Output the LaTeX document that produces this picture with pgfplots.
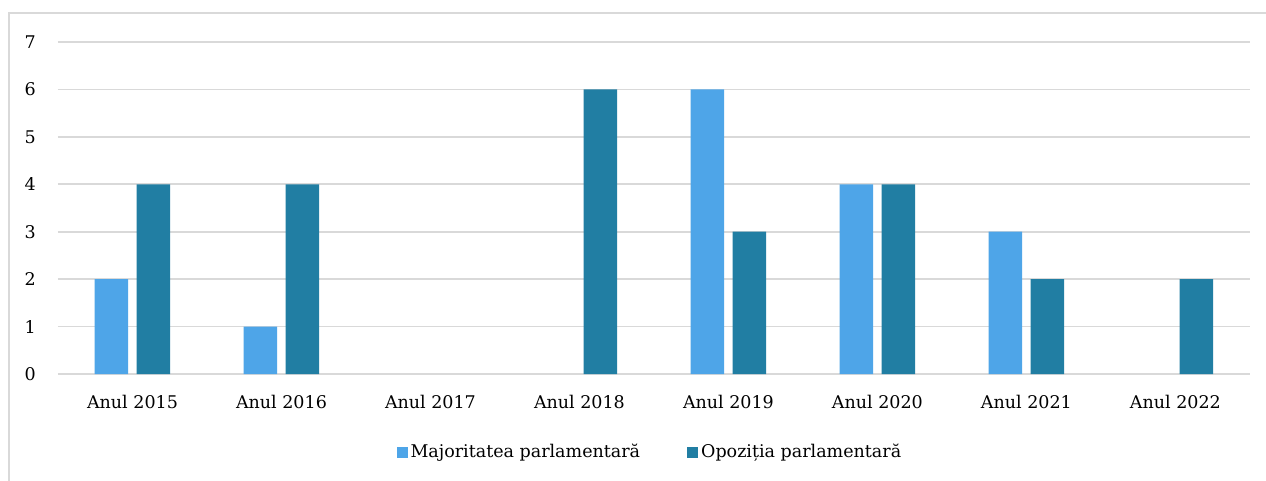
\documentclass[border=0pt]{standalone}
\usepackage{pgfplots}
\pgfplotsset{compat=1.18}
\usepackage{fontspec}
\setmainfont{DejaVu Serif}
\definecolor{cmaj}{HTML}{4EA5E8}
\definecolor{copo}{HTML}{217EA3}
\definecolor{cgrid}{HTML}{D9D9D9}
\begin{document}
\fontsize{17.5}{21}\selectfont
\begin{tikzpicture}
\useasboundingbox (0pt,0pt) rectangle (1266pt,480pt);
\fill[white] (0pt,0pt) rectangle (1266pt,480pt);
\draw[cgrid, line width=1.5pt] (9pt,-20pt) |- (1300pt,467pt);
\begin{axis}[
  at={(58pt,106pt)}, anchor=south west,
  scale only axis, width=1192pt, height=332pt,
  xmin=-0.5, xmax=7.5, ymin=0, ymax=7,
  axis line style={draw=none},
  ybar, bar width=33.5pt,
  xtick={0,...,7},
  xticklabels={Anul 2015,Anul 2016,Anul 2017,Anul 2018,Anul 2019,Anul 2020,Anul 2021,Anul 2022},
  ytick={0,...,7},
  ymajorgrids, grid style={cgrid, line width=1.7pt},
  tick style={draw=none},
  major tick length=0pt,
  xticklabel style={inner sep=0pt, anchor=north, yshift=-21pt},
  yticklabel style={inner sep=0pt, anchor=east, xshift=-22pt},
  /pgf/number format/assume math mode=true,
  ticklabel style={font=\fontsize{17.5}{21}\selectfont},
  legend style={at={(0.497,-0.235)}, anchor=center, draw=none, fill=none,
    legend columns=2, font=\fontsize{17.5}{21}\selectfont,
    /tikz/every even column/.append style={column sep=44pt},
    nodes={inner sep=3pt}},
]
\addplot+[bar shift=-21pt, fill=cmaj, draw=none,
  legend image code/.code={\fill[cmaj] (0pt,-5.5pt) rectangle (11pt,5.5pt);}]
  coordinates {(0,2) (1,1) (4,6) (5,4) (6,3)};
\addlegendentry{Majoritatea parlamentară}
\addplot+[bar shift=21pt, fill=copo, draw=none,
  legend image code/.code={\fill[copo] (0pt,-5.5pt) rectangle (11pt,5.5pt);}]
  coordinates {(0,4) (1,4) (3,6) (4,3) (5,4) (6,2) (7,2)};
\addlegendentry{Opoziția parlamentară}
\end{axis}
\end{tikzpicture}
\end{document}
